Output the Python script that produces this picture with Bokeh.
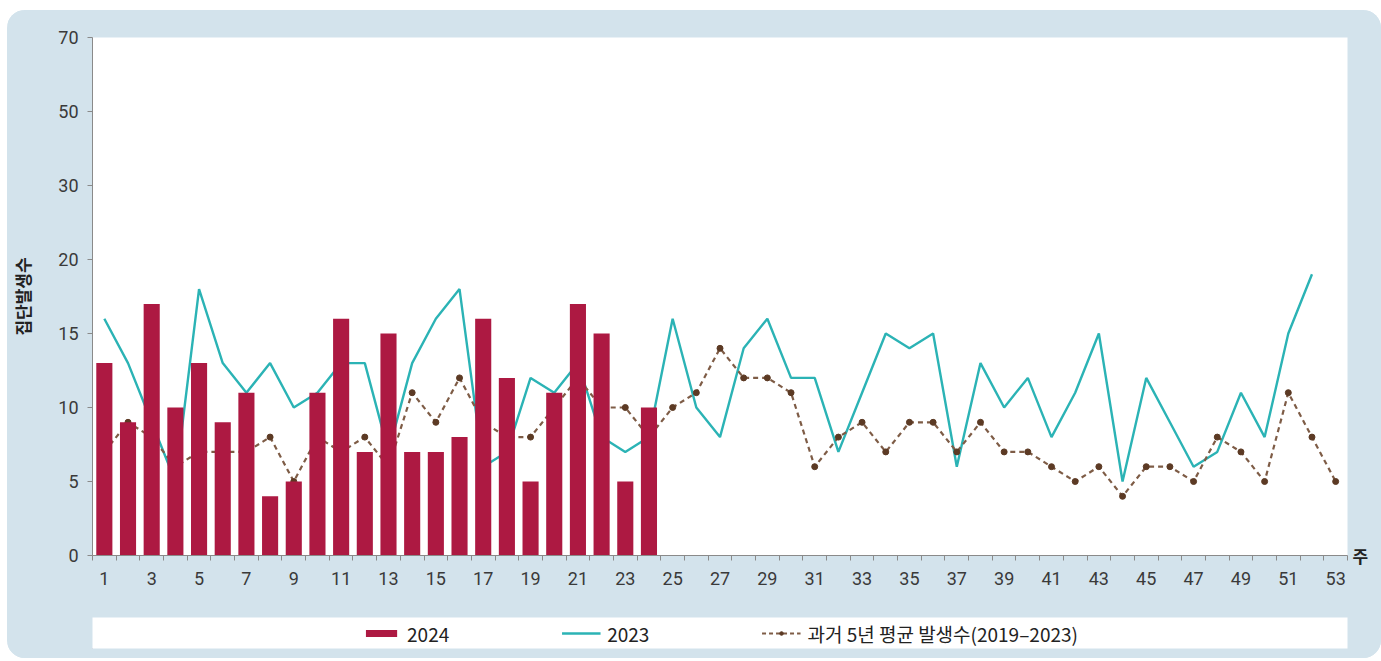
from bokeh.plotting import figure
from bokeh.models import FixedTicker, Legend, LegendItem, LinearAxis, Range1d
from bokeh.layouts import column
from bokeh.embed import file_html
from bokeh.resources import INLINE

# ---------------- data ----------------
weeks = list(range(1, 54))
cases_2024 = [13, 9, 17, 10, 13, 9, 11, 4, 5, 11, 16, 7, 15, 7, 7, 8, 16, 12, 5, 11, 17, 15, 5, 10]
cases_2023 = [16, 13, 9, 5, 18, 13, 11, 13, 10, 11, 13, 13, 7, 13, 16, 18, 6, 7, 12, 11,
              13, 8, 7, 8, 16, 10, 8, 14, 16, 12, 12, 7, 11, 15, 14, 15, 6, 13, 10, 12,
              8, 11, 15, 5, 12, 9, 6, 7, 11, 8, 15, 19]
avg_5yr = [7, 9, 8, 6, 7, 7, 7, 8, 5, 8, 7, 8, 6, 11, 9, 12, 9, 8, 8, 10,
           12, 10, 10, 8, 10, 11, 14, 12, 12, 11, 6, 8, 9, 7, 9, 9, 7, 9, 7, 7,
           6, 5, 6, 4, 6, 6, 5, 8, 7, 5, 11, 8, 5]
# broken y axis: equally spaced ticks; above 20 the spacing stands for 30/50/70
y_tick_positions = [0, 5, 10, 15, 20, 25, 30, 35]
y_tick_labels = ["0", "5", "10", "15", "20", "30", "50", "70"]
x_tick_weeks = [w for w in weeks if w % 2 == 1]
x_tick_labels = [str(w) for w in x_tick_weeks]
series_names = ["2024", "2023", "과거 5년 평균 발생수(2019\u20132023)"]
y_title = "집단발생수"
x_unit = "주"

BG = "#d3e3ec"
BAR = "#ad1942"
TEAL = "#2bb3b5"
BROWN = "#7e5c46"
DOT = "#5c3a24"
AXIS = "#8a8a8a"
TICKFONT = "Roboto"

p = figure(width=1374, height=607,
           x_range=Range1d(0.5, 53.5), y_range=Range1d(0, 35),
           output_backend="svg", toolbar_location=None,
           min_border_left=85, min_border_right=34, min_border_top=27, min_border_bottom=62,
           border_fill_color=BG, background_fill_color="white", outline_line_color=None)
p.grid.visible = False

n23 = len(cases_2023)
n24 = len(cases_2024)
p.line(weeks[:n23], cases_2023, line_color=TEAL, line_width=2.4)
p.line(weeks, avg_5yr, line_color=BROWN, line_width=2.2, line_dash="5 4")
p.scatter(weeks, avg_5yr, size=6, fill_color=DOT, line_color=DOT)
p.vbar(x=weeks[:n24], top=cases_2024, width=0.68, fill_color=BAR, line_color=None)

# x axis
xa = p.xaxis[0]
xa.ticker = FixedTicker(ticks=x_tick_weeks, minor_ticks=[w - 0.5 for w in weeks] + [weeks[-1] + 0.5])
xa.major_label_overrides = {w: l for w, l in zip(x_tick_weeks, x_tick_labels)}
xa.major_tick_out = 0
xa.major_tick_in = 0
xa.minor_tick_out = 5
xa.minor_tick_in = 0
xa.minor_tick_line_color = AXIS
xa.axis_line_color = AXIS
xa.major_label_standoff = 11
xa.major_label_text_font = TICKFONT
xa.major_label_text_font_size = "18px"
xa.major_label_text_color = "#3a3a3a"

# y axis
ya = p.yaxis[0]
ya.ticker = FixedTicker(ticks=y_tick_positions, minor_ticks=[])
ya.major_label_overrides = {t: l for t, l in zip(y_tick_positions, y_tick_labels)}
ya.major_tick_out = 5
ya.major_tick_in = 0
ya.minor_tick_out = 0
ya.minor_tick_in = 0
ya.major_tick_line_color = AXIS
ya.axis_line_color = AXIS
ya.major_label_standoff = 9
ya.major_label_text_font = TICKFONT
ya.major_label_text_font_size = "18px"
ya.major_label_text_color = "#3a3a3a"
ya.axis_label = y_title
ya.axis_label_text_font = "Noto Sans CJK KR"
ya.axis_label_text_font_style = "bold"
ya.axis_label_text_font_size = "17px"
ya.axis_label_text_color = "#222222"
ya.axis_label_standoff = 20

# unit label "주" at the right end of the x axis (via a bare right axis)
ra = LinearAxis(ticker=FixedTicker(ticks=[0], minor_ticks=[]),
                major_label_overrides={0: x_unit},
                axis_line_color=None, major_tick_line_color=None,
                major_tick_out=0, major_tick_in=0, minor_tick_out=0, minor_tick_in=0,
                major_label_standoff=5,
                major_label_text_font="Noto Sans CJK KR", major_label_text_font_size="17px",
                major_label_text_font_style="bold", major_label_text_color="#222222")
p.add_layout(ra, "right")

# ---------------- legend band ----------------
q = figure(width=1374, height=41, x_range=Range1d(0, 1), y_range=Range1d(0, 1),
           output_backend="svg", toolbar_location=None,
           x_axis_location=None, y_axis_location=None,
           min_border_left=85, min_border_right=34, min_border_top=0, min_border_bottom=10,
           border_fill_color=BG, background_fill_color="white", outline_line_color=None)
q.grid.visible = False
hx = [-50, -49]
hy = [-50, -50]
r1 = q.vbar(x=hx[:1], top=hy[:1], bottom=[-51], width=0.5, fill_color=BAR, line_color=None)
r2 = q.line(hx, hy, line_color=TEAL, line_width=2.4)
r3 = q.line(hx, hy, line_color=BROWN, line_width=2.2, line_dash="4 3")
r4 = q.scatter(hx[:1], hy[:1], size=6, fill_color=DOT, line_color=DOT)
leg = Legend(items=[LegendItem(label=series_names[0], renderers=[r1]),
                    LegendItem(label=series_names[1], renderers=[r2]),
                    LegendItem(label=series_names[2], renderers=[r3, r4])],
             location="center", orientation="horizontal", spacing=112,
             glyph_width=39, glyph_height=9, label_standoff=7, padding=0, margin=0,
             border_line_color=None, background_fill_alpha=0,
             label_text_font="Noto Sans CJK KR", label_text_font_size="19px",
             label_text_color="#222222")
q.add_layout(leg)

layout = column(p, q, spacing=0,
                styles={"background-color": BG, "border-radius": "18px", "overflow": "hidden"})
layout.margin = (10, 0, 0, 7)

open("out.html", "w").write(file_html(layout, INLINE))
